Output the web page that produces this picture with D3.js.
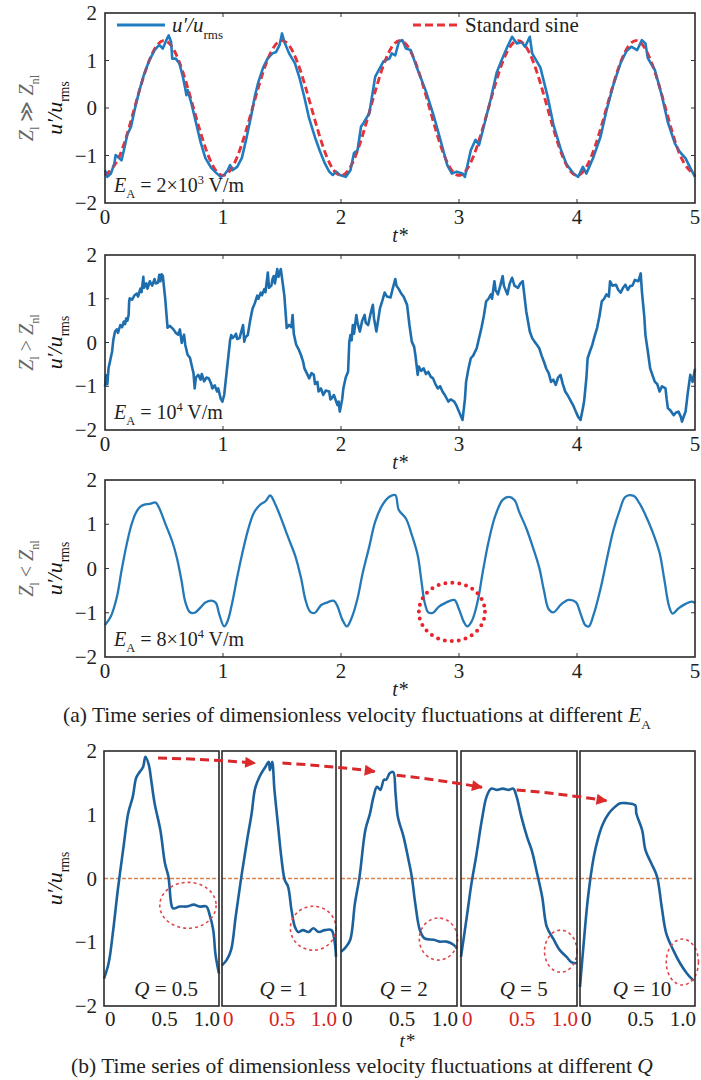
<!DOCTYPE html>
<html><head><meta charset="utf-8">
<script src="https://cdn.jsdelivr.net/npm/d3@7"></script>
<style>body{margin:0;background:#fff}svg{display:block}text{font-family:"Liberation Serif","Times New Roman",serif}</style>
</head><body><svg id="c" width="701" height="1080" font-family="Liberation Serif, serif"></svg>
<script>
// ---------------- DATA ----------------
const xTicksA = [0, 1, 2, 3, 4, 5];
const yTicks = [2, 1, 0, -1, -2];
const xTicksB = ["0", "0.5", "1.0"];
const qLabels = ["0.5", "1", "2", "5", "10"];
const eLabels = [["2×10", "3"], ["10", "4"], ["8×10", "4"]];
const zRelations = ["≫", ">", "<"];

// standard sine reference, sampled every 1/8 period
const sineT = [0,0.125,0.25,0.375,0.5,0.625,0.75,0.875,1,1.125,1.25,1.375,1.5,1.625,1.75,1.875,2,2.125,2.25,2.375,2.5,2.625,2.75,2.875,3,3.125,3.25,3.375,3.5,3.625,3.75,3.875,4,4.125,4.25,4.375,4.5,4.625,4.75,4.875,5];
const sineV = [-1.42,-1.0,0,1.0,1.42,1.0,0,-1.0,-1.42,-1.0,0,1.0,1.42,1.0,0,-1.0,-1.42,-1.0,0,1.0,1.42,1.0,0,-1.0,-1.42,-1.0,0,1.0,1.42,1.0,0,-1.0,-1.42,-1.0,0,1.0,1.42,1.0,0,-1.0,-1.42];

// E_A = 2e3 V/m
const seriesLow = [[0,-1.31],[0.02,-1.45],[0.05,-1.38],[0.08,-1.16],[0.09,-0.99],[0.11,-1.03],[0.14,-1.10],[0.16,-0.89],[0.19,-0.55],[0.22,-0.40],[0.25,-0.05],[0.29,0.36],[0.33,0.70],[0.37,0.97],[0.42,1.22],[0.46,1.33],[0.49,1.25],[0.52,1.43],[0.54,1.53],[0.56,1.39],[0.57,1.04],[0.60,1.04],[0.63,0.94],[0.66,0.66],[0.68,0.41],[0.69,0.27],[0.70,0.38],[0.73,0.12],[0.77,-0.30],[0.81,-0.72],[0.85,-1.05],[0.90,-1.26],[0.94,-1.36],[0.98,-1.45],[1.01,-1.41],[1.04,-1.31],[1.06,-1.20],[1.08,-1.31],[1.12,-1.24],[1.16,-1.05],[1.20,-0.62],[1.24,-0.15],[1.27,0.25],[1.30,0.55],[1.34,0.85],[1.38,1.05],[1.42,1.15],[1.45,1.18],[1.48,1.33],[1.50,1.57],[1.52,1.39],[1.56,1.15],[1.61,0.94],[1.65,0.62],[1.69,0.22],[1.73,-0.22],[1.78,-0.62],[1.82,-0.90],[1.86,-1.15],[1.90,-1.34],[1.93,-1.41],[1.96,-1.34],[1.99,-1.41],[2.04,-1.45],[2.08,-1.31],[2.11,-0.95],[2.14,-0.89],[2.17,-0.39],[2.19,-0.32],[2.24,-0.11],[2.29,0.66],[2.36,0.98],[2.41,1.04],[2.43,1.15],[2.46,1.11],[2.49,1.39],[2.52,1.43],[2.55,1.25],[2.59,1.22],[2.64,0.87],[2.72,0.35],[2.79,-0.20],[2.84,-0.65],[2.90,-1.20],[2.94,-1.38],[2.98,-1.34],[3.03,-1.38],[3.05,-1.45],[3.10,-0.89],[3.14,-0.67],[3.17,-0.78],[3.21,-0.39],[3.27,0.20],[3.32,0.75],[3.36,1.00],[3.41,1.29],[3.45,1.50],[3.49,1.36],[3.53,1.39],[3.56,1.29],[3.60,1.50],[3.62,1.15],[3.69,0.85],[3.75,0.25],[3.80,-0.35],[3.86,-0.85],[3.91,-1.18],[3.97,-1.38],[4.01,-1.45],[4.05,-1.24],[4.08,-1.38],[4.14,-1.03],[4.20,-0.60],[4.25,-0.05],[4.31,0.50],[4.37,0.95],[4.42,1.20],[4.46,1.29],[4.51,1.22],[4.55,1.43],[4.58,1.36],[4.60,1.05],[4.66,0.80],[4.72,0.25],[4.77,-0.30],[4.83,-0.75],[4.87,-0.92],[4.92,-1.06],[4.96,-1.26],[5.00,-1.45]];

// E_A = 1e4 V/m
const seriesMid = [[0.00,-1.01],[0.01,-0.75],[0.02,-0.95],[0.03,-0.59],[0.045,-0.40],[0.06,-0.21],[0.07,0.05],[0.085,0.25],[0.10,0.30],[0.11,0.22],[0.13,0.40],[0.145,0.35],[0.16,0.48],[0.17,0.42],[0.18,0.55],[0.19,0.50],[0.20,0.63],[0.205,0.95],[0.21,1.01],[0.23,0.98],[0.25,1.08],[0.27,1.12],[0.28,1.05],[0.30,1.23],[0.31,1.15],[0.325,1.50],[0.33,1.25],[0.35,1.35],[0.36,1.23],[0.38,1.40],[0.40,1.30],[0.42,1.45],[0.43,1.35],[0.45,1.37],[0.46,1.55],[0.47,1.40],[0.48,1.56],[0.49,1.52],[0.51,1.01],[0.53,0.34],[0.55,0.38],[0.58,0.30],[0.60,0.22],[0.62,0.18],[0.635,0.30],[0.65,-0.01],[0.66,0.10],[0.67,0.18],[0.68,-0.05],[0.70,-0.28],[0.72,-0.35],[0.74,-0.59],[0.75,-0.70],[0.76,-1.05],[0.77,-0.80],[0.79,-0.74],[0.81,-0.85],[0.82,-0.72],[0.84,-0.89],[0.86,-0.80],[0.88,-0.82],[0.90,-0.95],[0.91,-1.05],[0.93,-0.98],[0.95,-1.12],[0.96,-1.05],[0.98,-1.28],[0.995,-1.35],[1.01,-1.20],[1.03,-0.70],[1.04,-0.45],[1.06,0.05],[1.07,0.17],[1.08,0.10],[1.10,0.15],[1.11,0.20],[1.12,0.08],[1.14,0.10],[1.15,0.20],[1.17,0.40],[1.18,0.02],[1.19,0.12],[1.21,0.17],[1.23,0.50],[1.25,0.77],[1.27,0.90],[1.29,1.07],[1.30,1.00],[1.32,1.14],[1.33,1.08],[1.35,1.22],[1.36,1.15],[1.38,1.60],[1.39,1.25],[1.41,1.30],[1.42,1.45],[1.43,1.52],[1.44,1.35],[1.46,1.68],[1.47,1.50],[1.49,1.68],[1.52,1.07],[1.54,0.33],[1.56,0.40],[1.58,0.35],[1.59,0.63],[1.60,0.20],[1.62,-0.05],[1.64,-0.15],[1.66,-0.28],[1.68,-0.45],[1.69,-0.59],[1.71,-0.70],[1.73,-0.82],[1.75,-0.70],[1.77,-0.74],[1.78,-0.95],[1.80,-0.90],[1.81,-1.12],[1.83,-1.05],[1.85,-1.20],[1.87,-1.10],[1.90,-1.12],[1.91,-1.30],[1.92,-1.28],[1.94,-1.20],[1.97,-1.43],[1.98,-1.35],[1.99,-1.58],[2.01,-1.30],[2.02,-1.05],[2.04,-0.80],[2.06,-0.67],[2.07,0.00],[2.08,0.17],[2.09,0.05],[2.10,0.40],[2.11,0.20],[2.13,0.63],[2.14,0.45],[2.16,0.25],[2.18,0.50],[2.20,0.63],[2.21,0.45],[2.23,0.40],[2.25,0.65],[2.27,0.86],[2.28,0.55],[2.30,0.25],[2.32,0.60],[2.33,0.78],[2.35,0.95],[2.37,1.14],[2.39,1.05],[2.42,1.03],[2.44,1.25],[2.46,1.45],[2.47,1.30],[2.49,1.22],[2.51,1.12],[2.53,1.05],[2.56,0.86],[2.58,0.40],[2.60,0.02],[2.62,-0.10],[2.63,-0.28],[2.65,-0.74],[2.66,-0.55],[2.68,-0.65],[2.70,-0.59],[2.72,-0.72],[2.74,-0.67],[2.76,-0.78],[2.78,-0.82],[2.80,-0.95],[2.82,-1.05],[2.84,-1.00],[2.86,-1.12],[2.88,-1.20],[2.91,-1.35],[2.93,-1.30],[2.96,-1.35],[2.98,-1.45],[3.00,-1.58],[3.03,-1.77],[3.05,-1.30],[3.06,-0.90],[3.08,-0.60],[3.10,-0.36],[3.12,-0.30],[3.15,-0.13],[3.17,0.10],[3.19,0.33],[3.21,0.60],[3.23,0.94],[3.25,1.00],[3.27,1.10],[3.28,1.00],[3.30,1.40],[3.31,1.20],[3.33,1.10],[3.35,1.30],[3.37,1.52],[3.38,1.30],[3.41,1.10],[3.43,1.35],[3.45,1.48],[3.47,1.30],[3.50,1.25],[3.52,1.35],[3.54,1.40],[3.57,0.71],[3.60,0.25],[3.62,0.10],[3.64,0.02],[3.66,-0.05],[3.68,-0.13],[3.70,-0.30],[3.72,-0.44],[3.74,-0.60],[3.76,-0.70],[3.78,-0.90],[3.80,-0.85],[3.82,-0.97],[3.84,-0.80],[3.86,-0.74],[3.88,-0.95],[3.90,-1.12],[3.92,-1.20],[3.95,-1.35],[3.97,-1.45],[3.99,-1.58],[4.01,-1.70],[4.03,-1.77],[4.05,-1.50],[4.06,-1.35],[4.08,-0.80],[4.09,-0.36],[4.11,-0.20],[4.13,-0.05],[4.15,0.15],[4.17,0.33],[4.19,0.60],[4.21,0.94],[4.23,1.00],[4.25,1.10],[4.27,1.05],[4.28,1.40],[4.30,1.30],[4.33,1.32],[4.35,1.20],[4.37,1.14],[4.39,1.25],[4.41,1.32],[4.43,1.20],[4.45,1.29],[4.47,1.30],[4.49,1.43],[4.52,1.40],[4.54,1.58],[4.55,1.17],[4.57,0.60],[4.58,0.17],[4.60,-0.20],[4.62,-0.59],[4.64,-0.75],[4.66,-0.90],[4.68,-0.95],[4.70,-1.12],[4.72,-1.00],[4.75,-1.05],[4.76,-1.30],[4.77,-1.50],[4.79,-1.55],[4.82,-1.66],[4.84,-1.60],[4.86,-1.58],[4.88,-1.70],[4.89,-1.81],[4.91,-1.65],[4.92,-1.58],[4.94,-1.13],[4.96,-0.74],[4.98,-0.90],[5.00,-0.60]];

// E_A = 8e4 V/m
const seriesHigh = [[0,-1.28],[0.05,-1.08],[0.10,-0.65],[0.14,-0.05],[0.18,0.50],[0.22,0.95],[0.26,1.25],[0.30,1.40],[0.34,1.45],[0.38,1.46],[0.43,1.49],[0.46,1.36],[0.51,1.02],[0.57,0.61],[0.61,0.23],[0.65,-0.30],[0.68,-0.75],[0.72,-0.99],[0.76,-1.00],[0.81,-0.88],[0.85,-0.77],[0.91,-0.73],[0.94,-0.78],[0.97,-1.05],[1.01,-1.31],[1.04,-1.18],[1.08,-0.75],[1.12,-0.20],[1.16,0.30],[1.21,0.85],[1.26,1.25],[1.31,1.43],[1.36,1.52],[1.40,1.65],[1.44,1.47],[1.49,1.15],[1.55,0.72],[1.61,0.30],[1.66,-0.20],[1.70,-0.72],[1.74,-0.98],[1.78,-1.00],[1.83,-0.83],[1.88,-0.77],[1.94,-0.73],[1.97,-0.85],[2.01,-1.15],[2.05,-1.31],[2.09,-1.12],[2.14,-0.68],[2.18,-0.15],[2.24,0.50],[2.29,1.06],[2.35,1.43],[2.41,1.62],[2.46,1.66],[2.49,1.32],[2.55,1.13],[2.60,0.76],[2.65,0.30],[2.68,-0.25],[2.71,-0.78],[2.74,-0.99],[2.78,-1.00],[2.83,-0.86],[2.89,-0.77],[2.96,-0.71],[3.00,-0.92],[3.04,-1.20],[3.07,-1.31],[3.11,-1.18],[3.16,-0.72],[3.20,-0.10],[3.25,0.60],[3.31,1.21],[3.37,1.55],[3.42,1.62],[3.47,1.55],[3.51,1.28],[3.57,0.91],[3.62,0.53],[3.68,0.02],[3.72,-0.50],[3.76,-0.92],[3.80,-0.99],[3.87,-0.80],[3.93,-0.71],[3.99,-0.76],[4.03,-1.02],[4.07,-1.28],[4.10,-1.31],[4.14,-1.05],[4.20,-0.45],[4.26,0.30],[4.31,0.88],[4.36,1.30],[4.41,1.62],[4.48,1.64],[4.53,1.47],[4.58,1.21],[4.64,0.83],[4.70,0.35],[4.74,-0.25],[4.78,-0.85],[4.81,-1.02],[4.86,-0.90],[4.92,-0.80],[4.97,-0.75],[5.00,-0.78]];

// one period at different Q
const q05 = [[0.0,-1.57],[0.04,-1.33],[0.08,-0.81],[0.12,-0.18],[0.17,0.50],[0.21,1.02],[0.25,1.28],[0.28,1.58],[0.31,1.67],[0.34,1.75],[0.36,1.91],[0.39,1.78],[0.41,1.55],[0.44,1.18],[0.49,0.76],[0.53,0.24],[0.56,0.03],[0.585,-0.40],[0.60,-0.47],[0.66,-0.44],[0.72,-0.44],[0.78,-0.41],[0.83,-0.44],[0.89,-0.44],[0.92,-0.58],[0.95,-0.81],[0.97,-1.20],[1.0,-1.49]];
const q1 = [[0.0,-1.36],[0.04,-1.28],[0.08,-1.12],[0.12,-0.60],[0.17,0.03],[0.22,0.60],[0.26,1.02],[0.29,1.41],[0.33,1.60],[0.38,1.75],[0.41,1.83],[0.42,1.70],[0.44,1.83],[0.46,1.39],[0.49,0.86],[0.52,0.34],[0.55,-0.02],[0.58,-0.13],[0.61,-0.50],[0.64,-0.76],[0.67,-0.84],[0.71,-0.81],[0.76,-0.84],[0.80,-0.78],[0.85,-0.84],[0.90,-0.81],[0.96,-0.81],[0.99,-1.02],[1.0,-1.23]];
const q2 = [[0.0,-1.15],[0.04,-1.08],[0.08,-0.96],[0.12,-0.39],[0.16,0.03],[0.21,0.76],[0.25,1.02],[0.28,1.28],[0.31,1.44],[0.34,1.39],[0.37,1.55],[0.39,1.55],[0.42,1.65],[0.45,1.67],[0.47,1.34],[0.49,0.97],[0.54,0.65],[0.58,0.31],[0.61,0.03],[0.64,-0.39],[0.68,-0.81],[0.72,-0.94],[0.80,-0.96],[0.85,-0.99],[0.91,-0.99],[0.97,-1.04],[1.0,-1.10]];
const q5 = [[0.0,-1.23],[0.05,-0.60],[0.09,-0.08],[0.13,0.34],[0.18,0.92],[0.22,1.28],[0.26,1.41],[0.31,1.39],[0.36,1.41],[0.41,1.39],[0.45,1.41],[0.48,1.28],[0.52,0.97],[0.57,0.65],[0.61,0.44],[0.65,0.13],[0.70,-0.29],[0.74,-0.76],[0.80,-0.96],[0.85,-1.12],[0.91,-1.23],[0.95,-1.31],[1.0,-1.33]];
const q10 = [[0.0,-1.70],[0.03,-1.06],[0.07,-0.29],[0.12,0.34],[0.16,0.65],[0.20,0.86],[0.25,1.02],[0.29,1.10],[0.35,1.18],[0.41,1.18],[0.48,1.15],[0.49,1.02],[0.54,0.76],[0.57,0.44],[0.62,0.24],[0.67,0.03],[0.71,-0.44],[0.75,-0.86],[0.81,-1.12],[0.87,-1.33],[0.93,-1.49],[0.97,-1.57],[0.99,-1.60]];
const qSeries = [q05, q1, q2, q5, q10];

// annotations (data units): arrow segments [fromPanel, t, v, toPanel, t, v]
const peakArrows = [[0,0.47,1.89,1,0.29,1.81],[1,0.53,1.81,2,0.29,1.68],[2,0.48,1.62,3,0.18,1.43],[3,0.48,1.39,4,0.23,1.22]];
// dashed ellipses [panel, tCentre, vCentre, tRadius, vRadius]
const plateauMarks = [[0,0.73,-0.42,0.245,0.36],[1,0.80,-0.78,0.20,0.345],[2,0.84,-0.95,0.165,0.33],[3,0.86,-1.14,0.14,0.33],[4,0.89,-1.31,0.14,0.36]];
// dotted circle in third panel [t, v, tRadius, vRadius]
const dipMark = [2.94, -0.98, 0.28, 0.66];

// ---------------- DRAW ----------------
const svg = d3.select("#c");
svg.append("rect").attr("width",701).attr("height",1080).attr("fill","#fff");

function rich(sel, parts, size) {
  let shift = 0;
  parts.forEach(p => {
    const ts = sel.append("tspan").text(p.t);
    if (p.i) ts.attr("font-style", "italic");
    const target = p.sub ? size*0.32 : p.sup ? -size*0.42 : 0;
    const dy = target - shift;
    if (dy) ts.attr("dy", dy);
    shift = target;
    if (p.sub || p.sup) ts.attr("font-size", size*0.62);
  });
  return sel;
}

const L = 105, R = 695;
const topPanels = [
  {top: 13, bottom: 203, data: seriesLow, color: "#1f7cc0", w: 2.6, curve: d3.curveLinear},
  {top: 255, bottom: 430, data: seriesMid, color: "#1e6eae", w: 2.6, curve: d3.curveLinear},
  {top: 480, bottom: 657, data: seriesHigh, color: "#2479b6", w: 2.3, curve: d3.curveCatmullRom}
];
const x = d3.scaleLinear().domain([0, 5]).range([L, R]);
const sinePts = sineT.map((t, k) => [t, sineV[k]]);

topPanels.forEach((p, i) => {
  const y = d3.scaleLinear().domain([-2, 2]).range([p.bottom, p.top]);
  p.y = y;
  const g = svg.append("g");
  const tk = g.append("g").attr("stroke", "#333").attr("stroke-width", 1);
  xTicksA.slice(1, -1).forEach(t => {
    tk.append("line").attr("x1", x(t)).attr("x2", x(t)).attr("y1", p.bottom).attr("y2", p.bottom - 4);
    tk.append("line").attr("x1", x(t)).attr("x2", x(t)).attr("y1", p.top).attr("y2", p.top + 4);
  });
  yTicks.slice(1, -1).forEach(v => {
    tk.append("line").attr("x1", L).attr("x2", L + 4).attr("y1", y(v)).attr("y2", y(v));
    tk.append("line").attr("x1", R).attr("x2", R - 4).attr("y1", y(v)).attr("y2", y(v));
  });
  const sineLine = d3.line().x(d => x(d[0])).y(d => y(d[1])).curve(d3.curveNatural);
  if (i === 0) {
    g.append("path").datum(sinePts).attr("d", sineLine)
      .attr("fill", "none").attr("stroke", "#e8323a").attr("stroke-width", 2.8)
      .attr("stroke-dasharray", "7,4");
  }
  g.append("path").datum(p.data)
    .attr("d", d3.line().x(d => x(d[0])).y(d => y(d[1])).curve(p.curve))
    .attr("fill", "none").attr("stroke", p.color).attr("stroke-width", p.w)
    .attr("stroke-linejoin", "round");
  if (i === 0) {
    g.append("path").datum(sinePts).attr("d", sineLine)
      .attr("fill", "none").attr("stroke", "#e8323a").attr("stroke-width", 2.4)
      .attr("stroke-dasharray", "7,4").attr("opacity", 0.5);
  }
  g.append("rect").attr("x", L).attr("y", p.top).attr("width", R - L).attr("height", p.bottom - p.top)
    .attr("fill", "none").attr("stroke", "#2a2a2a").attr("stroke-width", 1.6);
  yTicks.forEach(v => {
    g.append("text").attr("x", 97).attr("y", y(v) + 7).attr("text-anchor", "end")
      .attr("font-size", 21).attr("fill", "#222").text(v < 0 ? "\u2212" + Math.abs(v) : v);
  });
  xTicksA.forEach(t => {
    g.append("text").attr("x", x(t)).attr("y", p.bottom + 21).attr("text-anchor", "middle")
      .attr("font-size", 21).attr("fill", "#222").text(t);
  });
  g.append("text").attr("x", 400).attr("y", p.bottom + 39).attr("text-anchor", "middle")
    .attr("font-size", 20).attr("font-style", "italic").attr("fill", "#222").text("t*");
  const cy = (p.top + p.bottom) / 2;
  rich(g.append("text").attr("transform", `translate(33,${cy}) rotate(-90)`).attr("text-anchor", "middle")
      .attr("font-size", 20).attr("fill", "#666"),
    [{t: "Z", i: true}, {t: "l", sub: true}, {t: " " + zRelations[i] + " "}, {t: "Z", i: true}, {t: "nl", sub: true}], 20);
  rich(g.append("text").attr("transform", `translate(62,${cy}) rotate(-90)`).attr("text-anchor", "middle")
      .attr("font-size", 22).attr("fill", "#111"),
    [{t: "u\u2032/u", i: true}, {t: "rms", sub: true}], 22);
  rich(g.append("text").attr("x", 114).attr("y", p.bottom - 11).attr("font-size", 20).attr("fill", "#222"),
    [{t: "E", i: true}, {t: "A", sub: true}, {t: " = " + eLabels[i][0]}, {t: eLabels[i][1], sup: true}, {t: " V/m"}], 20);
});

// legend in panel 1
{
  const lg = svg.append("g");
  lg.append("line").attr("x1", 117).attr("x2", 165).attr("y1", 25).attr("y2", 25)
    .attr("stroke", "#1f7cc0").attr("stroke-width", 3);
  rich(lg.append("text").attr("x", 172).attr("y", 32).attr("font-size", 21).attr("fill", "#222"),
    [{t: "u\u2032/u", i: true}, {t: "rms", sub: true}], 21);
  lg.append("line").attr("x1", 413).attr("x2", 458).attr("y1", 25).attr("y2", 25)
    .attr("stroke", "#e8323a").attr("stroke-width", 3).attr("stroke-dasharray", "8,4");
  lg.append("text").attr("x", 465).attr("y", 32).attr("font-size", 21).attr("fill", "#222").text("Standard sine");
}

// dotted circle in panel 3
{
  const p = topPanels[2];
  svg.append("ellipse").attr("cx", x(dipMark[0])).attr("cy", p.y(dipMark[1]))
    .attr("rx", x(dipMark[2]) - x(0)).attr("ry", p.y(0) - p.y(dipMark[3]))
    .attr("fill", "none").attr("stroke", "#e8232b").attr("stroke-width", 4)
    .attr("stroke-linecap", "round").attr("stroke-dasharray", "0,7");
}

// caption (a)
rich(svg.append("text").attr("x", 357).attr("y", 722).attr("text-anchor", "middle").attr("font-size", 21.5).attr("fill", "#222"),
  [{t: "(a) Time series of dimensionless velocity fluctuations at different "}, {t: "E", i: true}, {t: "A", sub: true}], 21.5);

// ---------------- PANEL (b) ----------------
const bTop = 751, bBottom = 1006;
const bPanels = [[104, 219], [222, 336], [341, 457], [461, 577], [580, 695]];
const tickColors = ["#222", "#d8231f", "#222", "#d8231f", "#222"];
const yb = d3.scaleLinear().domain([-2, 2]).range([bBottom, bTop]);
const bx = bPanels.map(([a, b]) => d3.scaleLinear().domain([0, 1]).range([a, b]));

bPanels.forEach(([a, b], i) => {
  const g = svg.append("g");
  g.append("line").attr("x1", a).attr("x2", b).attr("y1", yb(0)).attr("y2", yb(0))
    .attr("stroke", "#d9844f").attr("stroke-width", 1.3).attr("stroke-dasharray", "4,2");
  g.append("path").datum(qSeries[i])
    .attr("d", d3.line().x(d => bx[i](d[0])).y(d => yb(d[1])).curve(d3.curveCatmullRom))
    .attr("fill", "none").attr("stroke", "#1d619c").attr("stroke-width", 2.6).attr("stroke-linejoin", "round");
  const m = plateauMarks[i];
  g.append("ellipse").attr("cx", bx[i](m[1])).attr("cy", yb(m[2]))
    .attr("rx", bx[i](m[3]) - bx[i](0)).attr("ry", yb(0) - yb(m[4]))
    .attr("fill", "none").attr("stroke", "#e0474a").attr("stroke-width", 1.6).attr("stroke-dasharray", "3,3");
  g.append("rect").attr("x", a).attr("y", bTop).attr("width", b - a).attr("height", bBottom - bTop)
    .attr("fill", "none").attr("stroke", "#2a2a2a").attr("stroke-width", 1.6);
  rich(g.append("text").attr("x", bx[i](0.54)).attr("y", 996).attr("text-anchor", "middle").attr("font-size", 21).attr("fill", "#222"),
    [{t: "Q", i: true}, {t: " = " + qLabels[i]}], 21);
  const anchors = ["start", "middle", "end"];
  const pos = [a + 1, (a + b) / 2 + 3, b + 1];
  xTicksB.forEach((lab, k) => {
    g.append("text").attr("x", pos[k]).attr("y", 1026).attr("text-anchor", anchors[k])
      .attr("font-size", 21).attr("fill", tickColors[i]).text(lab);
  });
});
yTicks.forEach(v => {
  svg.append("text").attr("x", 97).attr("y", yb(v) + 7).attr("text-anchor", "end")
    .attr("font-size", 21).attr("fill", "#222").text(v < 0 ? "\u2212" + Math.abs(v) : v);
});
rich(svg.append("text").attr("transform", `translate(62,${yb(0)}) rotate(-90)`).attr("text-anchor", "middle")
    .attr("font-size", 22).attr("fill", "#111"),
  [{t: "u\u2032/u", i: true}, {t: "rms", sub: true}], 22);
svg.append("text").attr("x", 407).attr("y", 1047).attr("text-anchor", "middle")
  .attr("font-size", 19).attr("font-style", "italic").attr("fill", "#222").text("t*");

// red dashed arrows across the Q panels
svg.append("defs").append("marker").attr("id", "ah").attr("viewBox", "0 0 10 10")
  .attr("refX", 9).attr("refY", 5).attr("markerWidth", 13).attr("markerHeight", 11)
  .attr("markerUnits", "userSpaceOnUse").attr("orient", "auto")
  .append("path").attr("d", "M0,0 L10,5 L0,10 z").attr("fill", "#dc2a2a");
peakArrows.forEach(s => {
  const x0 = bx[s[0]](s[1]), y0 = yb(s[2]), x1 = bx[s[3]](s[4]), y1 = yb(s[5]);
  svg.append("path").attr("d", `M${x0},${y0} Q${(x0 + x1) / 2},${(y0 + y1) / 2 - 1.5} ${x1},${y1}`)
    .attr("fill", "none").attr("stroke", "#d8282c").attr("stroke-width", 3)
    .attr("stroke-dasharray", "9,5").attr("marker-end", "url(#ah)");
});

// caption (b)
rich(svg.append("text").attr("x", 362).attr("y", 1073).attr("text-anchor", "middle").attr("font-size", 21.5).attr("fill", "#222"),
  [{t: "(b) Time series of dimensionless velocity fluctuations at different "}, {t: "Q", i: true}], 21.5);
</script>
</body></html>
